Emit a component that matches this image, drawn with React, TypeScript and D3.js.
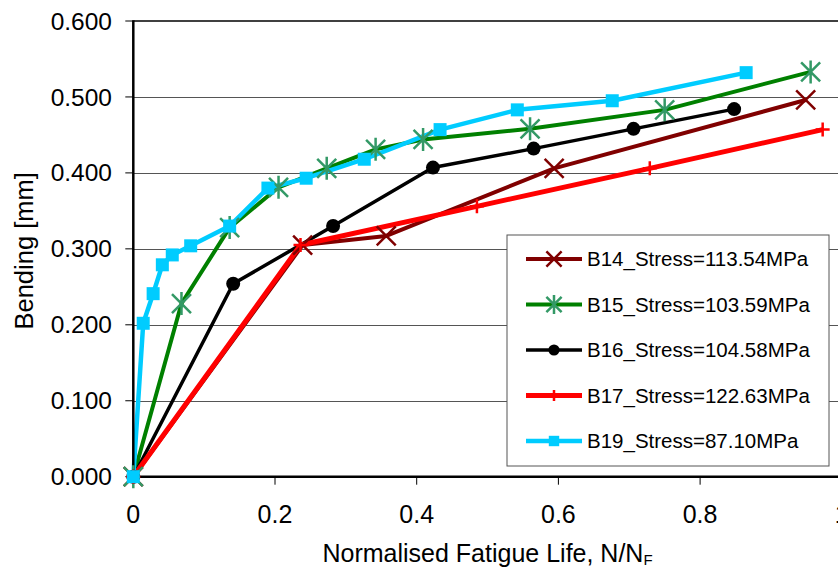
import React from 'react';
import * as d3 from 'd3';

// values
const seriesNames = [
  'B14_Stress=113.54MPa',
  'B15_Stress=103.59MPa',
  'B16_Stress=104.58MPa',
  'B17_Stress=122.63MPa',
  'B19_Stress=87.10MPa',
];

const b14X = [0, 0.239, 0.357, 0.594, 0.949];
const b14Y = [0, 0.305, 0.317, 0.406, 0.496];

const b15X = [0, 0.068, 0.136, 0.205, 0.273, 0.342, 0.409, 0.56, 0.75, 0.956];
const b15Y = [0, 0.228, 0.328, 0.381, 0.406, 0.431, 0.444, 0.458, 0.483, 0.533];

const b16X = [0, 0.141, 0.282, 0.423, 0.565, 0.706, 0.848];
const b16Y = [0, 0.254, 0.33, 0.407, 0.432, 0.458, 0.484];

const b17X = [0, 0.236, 0.485, 0.729, 0.973];
const b17Y = [0, 0.305, 0.356, 0.406, 0.457];

const b19X = [0, 0.014, 0.028, 0.041, 0.055, 0.081, 0.136, 0.19, 0.244, 0.326, 0.433, 0.542, 0.676, 0.865];
const b19Y = [0, 0.202, 0.241, 0.279, 0.292, 0.304, 0.33, 0.38, 0.393, 0.418, 0.457, 0.483, 0.495, 0.532];

const xTicks = [0, 0.2, 0.4, 0.6, 0.8, 1];
const yTicks = [0, 0.1, 0.2, 0.3, 0.4, 0.5, 0.6];

const width = 838;
const height = 569;
const font = '"Liberation Sans", Arial, sans-serif';

type Style = { color: string; markerColor: string; lineWidth: number; marker: string };

const styles: Style[] = [
  { color: '#800000', markerColor: '#800000', lineWidth: 4, marker: 'x' },
  { color: '#008000', markerColor: '#339966', lineWidth: 4, marker: 'star' },
  { color: '#000000', markerColor: '#000000', lineWidth: 3.5, marker: 'circle' },
  { color: '#ff0000', markerColor: '#ff0000', lineWidth: 5, marker: 'plus' },
  { color: '#00ccff', markerColor: '#00ccff', lineWidth: 4.5, marker: 'square' },
];

const Marker = ({ type, color, x, y, s = 1 }: { type: string; color: string; x: number; y: number; s?: number }) => {
  if (type === 'circle') return <circle cx={x} cy={y} r={7 * s} fill={color} />;
  if (type === 'square') {
    const h = 6.5 * s;
    return <rect x={x - h} y={y - h} width={2 * h} height={2 * h} fill={color} />;
  }
  const d = 9.5 * s;
  const p = 7 * s;
  let path = '';
  if (type === 'x') path = `M${x - d},${y - d}L${x + d},${y + d}M${x - d},${y + d}L${x + d},${y - d}`;
  if (type === 'star')
    path = `M${x - d},${y - d}L${x + d},${y + d}M${x - d},${y + d}L${x + d},${y - d}M${x},${y - d - 2}L${x},${y + d + 2}`;
  if (type === 'plus') path = `M${x},${y - p}L${x},${y + p}M${x - p},${y}L${x + p},${y}`;
  return <path d={path} stroke={color} strokeWidth={2.5} fill="none" />;
};

export default function App() {
  const x = d3.scaleLinear().domain([0, 1]).range([133.3, 841.8]);
  const y = d3.scaleLinear().domain([0, 0.6]).range([476.7, 21]);

  const xs = [b14X, b15X, b16X, b17X, b19X];
  const ys = [b14Y, b15Y, b16Y, b17Y, b19Y];
  const data = xs.map((arr, i) => arr.map((v, j) => [v, ys[i][j]] as [number, number]));

  const line = d3
    .line<[number, number]>()
    .x(d => x(d[0]))
    .y(d => y(d[1]));

  const yFmt = d3.format('.3f');
  const x0 = x(0);
  const yBottom = y(0);

  const legend = { x: 507, y: 235, w: 322, h: 231 };
  const rowY = (i: number) => 259 + i * 45.5;

  return (
    <div style={{ position: 'fixed', left: 0, top: 0 }}>
      <svg width={width} height={height} style={{ display: 'block', background: '#fff' }}>
        {/* gridlines */}
        {yTicks.slice(1, -1).map(t => (
          <line key={t} x1={x0} x2={width} y1={Math.round(y(t)) + 0.5} y2={Math.round(y(t)) + 0.5} stroke="#555" strokeWidth={1} />
        ))}
        {/* top border */}
        <line x1={x0} x2={width} y1={y(0.6)} y2={y(0.6)} stroke="#000" strokeWidth={1.5} />

        {/* y ticks + labels */}
        {yTicks.map(t => (
          <g key={t}>
            <line x1={x0 - 8} x2={x0} y1={y(t)} y2={y(t)} stroke="#000" strokeWidth={1} />
            <text x={112} y={y(t)} dy="0.35em" textAnchor="end" fontSize={24.5} fontFamily={font} fill="#000">
              {yFmt(t)}
            </text>
          </g>
        ))}

        {/* x ticks + labels */}
        {xTicks.map(t => (
          <g key={t}>
            <line x1={x(t)} x2={x(t)} y1={yBottom} y2={yBottom + 8} stroke="#000" strokeWidth={1} />
            <text x={x(t)} y={523} textAnchor="middle" fontSize={25} fontFamily={font} fill="#000">
              {d3.format('')(t)}
            </text>
          </g>
        ))}

        {/* series lines */}
        {data.map((pts, i) => (
          <path key={i} d={line(pts) || ''} fill="none" stroke={styles[i].color} strokeWidth={styles[i].lineWidth} strokeLinejoin="round" />
        ))}

        {/* axes */}
        <line x1={x0} x2={x0} y1={y(0.6) - 0.75} y2={yBottom + 1} stroke="#000" strokeWidth={2.5} />
        <line x1={x0} x2={width} y1={yBottom} y2={yBottom} stroke="#000" strokeWidth={2.5} />

        {/* markers */}
        {data.map((pts, i) =>
          pts.map((p, j) => (
            <Marker key={`${i}-${j}`} type={styles[i].marker} color={styles[i].markerColor} x={x(p[0])} y={y(p[1])} />
          ))
        )}

        {/* legend */}
        <rect x={legend.x} y={legend.y} width={legend.w} height={legend.h} fill="#fff" stroke="#555" strokeWidth={1} />
        {seriesNames.map((name, i) => (
          <g key={name}>
            <line x1={526} x2={582} y1={rowY(i)} y2={rowY(i)} stroke={styles[i].color} strokeWidth={styles[i].lineWidth} />
            <Marker type={styles[i].marker} color={styles[i].markerColor} x={554} y={rowY(i)} s={0.8} />
            <text x={587} y={rowY(i)} dy="0.36em" fontSize={20.5} fontFamily={font} fill="#000">
              {name}
            </text>
          </g>
        ))}

        {/* axis titles */}
        <text x={(x0 + 841.8) / 2} y={562} textAnchor="middle" fontSize={25} fontFamily={font} fill="#000">
          Normalised Fatigue Life, N/N
          <tspan fontSize={15} dy={3}>F</tspan>
        </text>
        <text
          transform={`translate(32.5,${(y(0.6) + yBottom) / 2 + 2}) rotate(-90)`}
          textAnchor="middle"
          fontSize={25.5}
          fontFamily={font}
          fill="#000"
        >
          Bending [mm]
        </text>
      </svg>
    </div>
  );
}
